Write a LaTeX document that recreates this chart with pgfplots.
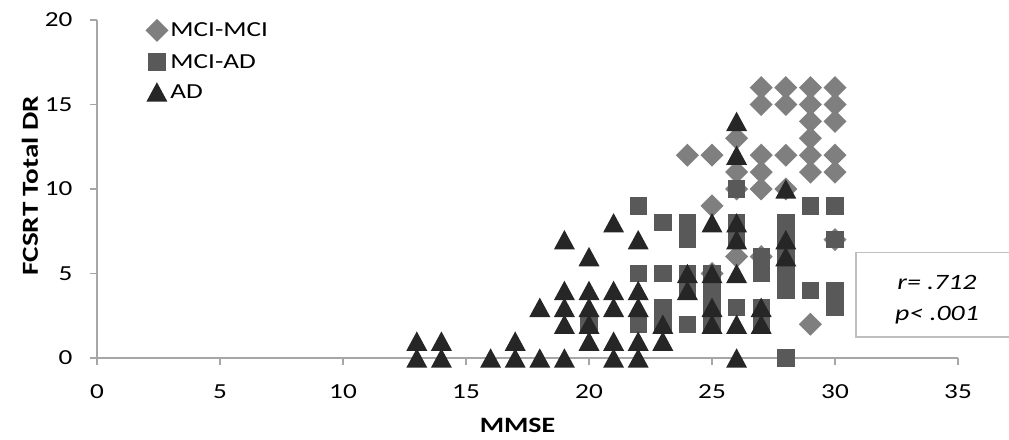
\documentclass[border=0pt]{standalone}
\usepackage{fontspec}
\setmainfont{Carlito}[FakeStretch=1.27]
\usepackage{pgfplots}
\pgfplotsset{compat=1.18}
\definecolor{mcimci}{HTML}{7F7F7F}
\definecolor{mciad}{HTML}{595959}
\definecolor{adc}{HTML}{262626}
\definecolor{axisgray}{HTML}{A6A6A6}
\definecolor{boxgray}{HTML}{BFBFBF}
\pgfdeclareplotmark{xdia}{%
  \pgfpathmoveto{\pgfqpoint{0bp}{11.5bp}}%
  \pgfpathlineto{\pgfqpoint{11.5bp}{0bp}}%
  \pgfpathlineto{\pgfqpoint{0bp}{-11.5bp}}%
  \pgfpathlineto{\pgfqpoint{-11.5bp}{0bp}}%
  \pgfpathclose\pgfusepathqfill}
\pgfdeclareplotmark{xsq}{%
  \pgfpathrectangle{\pgfqpoint{-8.7bp}{-8.7bp}}{\pgfqpoint{17.4bp}{17.4bp}}%
  \pgfusepathqfill}
\pgfdeclareplotmark{xtri}{%
  \pgfpathmoveto{\pgfqpoint{0bp}{9.7bp}}%
  \pgfpathlineto{\pgfqpoint{10.5bp}{-9.7bp}}%
  \pgfpathlineto{\pgfqpoint{-10.5bp}{-9.7bp}}%
  \pgfpathclose\pgfusepathqfill}
\begin{document}
\begin{tikzpicture}
\useasboundingbox (-97bp,-82bp) rectangle (912bp,358bp);
\begin{axis}[
  at={(0,0)}, anchor=south west,
  scale only axis, width=861bp, height=338bp,
  xmin=0, xmax=35, ymin=0, ymax=20,
  xtick={0,5,...,35}, ytick={0,5,...,20},
  axis x line*=bottom, axis y line*=left,
  axis line style={draw=axisgray, line width=1.3bp, -},
  tick style={draw=axisgray, line width=1.1bp},
  tick align=outside, major tick length=7bp,
  clip=false,
  /pgf/number format/assume math mode=true,
  tick label style={font=\fontsize{21.5}{25}\selectfont, text=black},
  yticklabel style={xshift=-14bp},
  xticklabel style={yshift=-16bp},
  every axis y label/.style={at={(axis description cs:-0.0778,0.51)}, rotate=90, anchor=center, font=\fontsize{23}{27}\selectfont\bfseries},
  every axis x label/.style={at={(axis description cs:0.5,-0.198)}, anchor=center, xshift=-10bp, font=\fontsize{22}{26}\selectfont\bfseries},
  xlabel={MMSE}, ylabel={FCSRT Total DR},
  legend style={at={(0.056,1.004)}, anchor=north west, draw=none, fill=none,
    font=\fontsize{21.5}{25}\selectfont, row sep=10.5bp, inner sep=0pt},
  legend cell align=left,
  legend image code/.code={\draw[#1] plot coordinates {(0.28cm,0cm)};},
]
\addplot[only marks, mark=xdia, color=mcimci] coordinates {
(24,12) (25,12) (25,9) (25,5) (26,13) (26,11) (26,10) (26,6)
(27,16) (27,15) (27,12) (27,11) (27,10) (27,6)
(28,16) (28,15) (28,12) (28,10)
(29,16) (29,15) (29,14) (29,13) (29,12) (29,11) (29,2)
(30,16) (30,15) (30,14) (30,12) (30,11) (30,7)
};
\addlegendentry{MCI-MCI}
\addplot[only marks, mark=xsq, color=mciad] coordinates {
(20,2) (22,9) (22,5) (22,2) (23,8) (23,5) (23,3) (23,2)
(24,8) (24,7) (24,5) (24,4) (24,2) (25,5) (25,4) (25,3) (25,2)
(26,10) (26,8) (26,7) (26,3) (27,6) (27,5) (27,3) (27,2)
(28,8) (28,7) (28,6) (28,5) (28,4) (28,0) (29,9) (29,4)
(30,9) (30,7) (30,4) (30,3)
};
\addlegendentry{MCI-AD}
\addplot[only marks, mark=xtri, color=adc] coordinates {
(13,0) (13,1) (14,0) (14,1) (16,0) (17,0) (17,1) (18,0) (18,3)
(19,0) (19,2) (19,3) (19,4) (19,7) (20,1) (20,2) (20,3) (20,4) (20,6)
(21,0) (21,1) (21,3) (21,4) (21,8) (22,0) (22,1) (22,3) (22,4) (22,7)
(23,1) (23,2) (24,4) (24,5) (25,2) (25,3) (25,5) (25,8)
(26,0) (26,2) (26,5) (26,7) (26,8) (26,12) (26,14) (27,2) (27,3)
(28,6) (28,7) (28,10)
};
\addlegendentry{AD}
\draw[boxgray, line width=1.2bp, fill=white] (rel axis cs:0.8815,0.062) rectangle (rel axis cs:1.08,0.311);
\node[align=center, font=\fontsize{22}{31}\selectfont\itshape, anchor=center] at (rel axis cs:0.9756,0.173) {r= .712\\p< .001};
\end{axis}
\end{tikzpicture}
\end{document}
